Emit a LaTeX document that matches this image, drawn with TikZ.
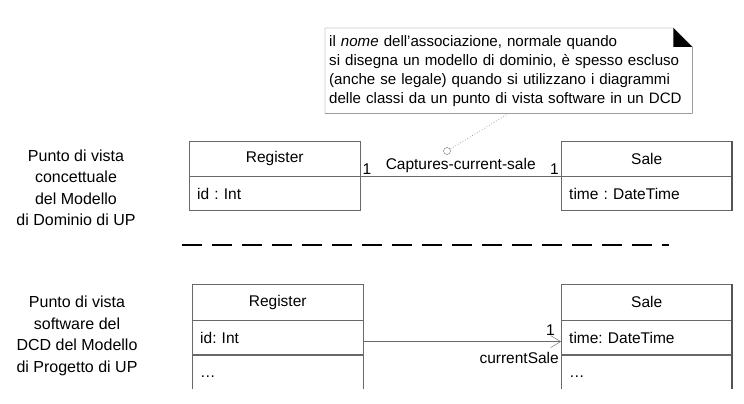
\documentclass[tikz,border=0pt]{standalone}
\usepackage{fontspec}
\setmainfont{Liberation Sans}
\usetikzlibrary{positioning, arrows.meta}

\definecolor{linegray}{RGB}{105,105,105}

\begin{document}
\frenchspacing
\begin{tikzpicture}[
    x=1pt, y=-1pt, node distance=0pt,
    font=\fontsize{15.5}{19}\selectfont,
    classname/.style={draw=linegray, anchor=north west, minimum width=171pt, minimum height=35pt, inner sep=0pt},
    classpart/.style={draw=linegray, text width=155pt, inner xsep=8pt, inner ysep=0pt, minimum height=34pt, align=left},
    viewlabel/.style={align=center, font=\fontsize{16}{21.5}\selectfont},
    notebox/.style={anchor=north west, text width=359pt, inner xsep=4pt, minimum height=85pt, align=left,
        font=\fontsize{15.1}{19}\selectfont},
    mult/.style={inner sep=2pt, text=black},
    shadowedge/.style={draw=linegray!80!black, line width=2pt}
]
    \useasboundingbox (0,0) rectangle (744,404);

    % Viewpoint labels
    \node[viewlabel] (concview) at (76,188) {Punto di vista\\concettuale\\del Modello\\di Dominio di UP};
    \node[viewlabel] (swview) at (77,336) {Punto di vista\\software del\\DCD del Modello\\di Progetto di UP};

    % Conceptual classes
    \node[classname] (regtop) at (189,141) {Register};
    \node[classpart, below=of regtop] (regtopattr) {id : Int};
    \node[classname] (saletop) at (561,141) {Sale};
    \node[classpart, below=of saletop] (saletopattr) {time : DateTime};
    \draw[shadowedge] (saletop.north east) -- (saletopattr.south east);

    % Association with name
    \draw[linegray] (regtop.south east) -- node[mult, pos=0, above right] {1}
        node[mult, midway, above, yshift=1pt] {Captures-current-sale}
        node[mult, pos=1, above left] {1} (saletop.south west);

    % Note on the association name
    \node[notebox] (note) at (325,28) {il \textit{nome} dell’associazione, normale quando\\si disegna un modello di dominio, è spesso escluso\\(anche se legale) quando si utilizzano i diagrammi\\delle classi da un punto di vista software in un DCD};
    \draw[linegray] (note.north west) -- ([xshift=-19pt]note.north east) -- ([yshift=-19pt]note.north east)
        -- (note.south east) -- (note.south west) -- cycle;
    \fill ([xshift=-19pt]note.north east) -- ([xshift=-19pt, yshift=-19pt]note.north east)
        -- ([yshift=-19pt]note.north east) -- cycle;
    \node[draw=linegray, circle, fill=white, minimum size=7pt, inner sep=0pt] (assocdot) at (447,151) {};
    \draw[linegray!60, dotted, thick] (note.south) -- (assocdot);

    % Separator
    \coordinate (sepstart) at (182,245);
    \coordinate (sepend) at (669,245);
    \draw[line width=1.6pt, dash pattern=on 20pt off 10pt] (sepstart) -- (sepend);

    % Software classes (DCD)
    \node[classname, minimum height=36pt] (regsw) at (192,284) {Register};
    \node[classpart, below=of regsw] (regswattr) {id: Int};
    \node[classname, minimum height=36pt] (salesw) at (561,284) {Sale};
    \node[classpart, below=of salesw] (saleswattr) {time: DateTime};
    \begin{scope}
        \clip (0,0) rectangle (744,388);
        \node[classpart, below=of regswattr, minimum height=44pt] (regswops) {\dots};
        \node[classpart, below=of saleswattr, minimum height=44pt] (saleswops) {\dots};
        \draw[shadowedge] (salesw.north east) -- (saleswops.south east);
    \end{scope}

    % Navigable association
    \draw[linegray, -{Straight Barb[length=10pt, width=12pt]}] ([yshift=-4pt]regswattr.east)
        -- node[mult, pos=1, above left, xshift=-4pt, yshift=4pt] {1}
        node[mult, pos=1, below left, yshift=-8pt] {currentSale} ([yshift=-4pt]saleswattr.west);

\end{tikzpicture}
\end{document}
